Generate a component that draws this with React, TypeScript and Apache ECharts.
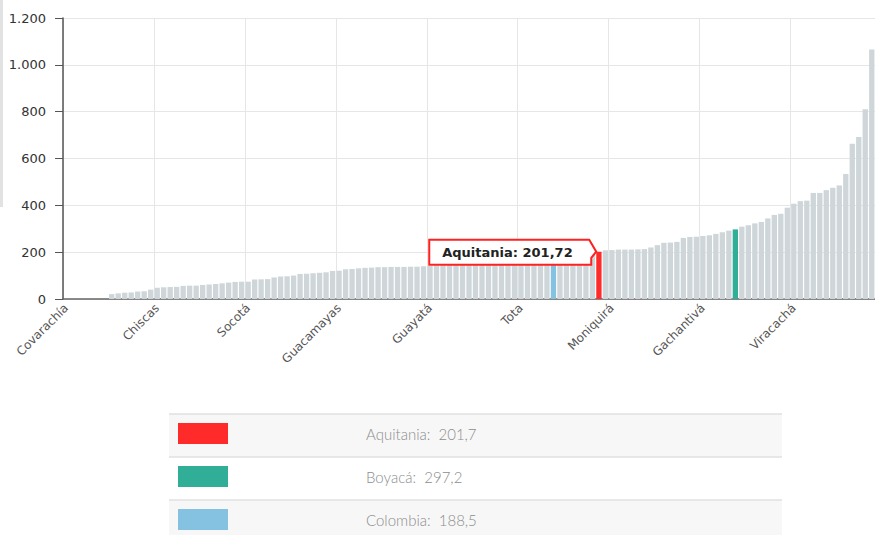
import React, { useEffect, useRef } from 'react';
import * as echarts from 'echarts';

// Tick labels shown on the category axis (every 14th municipality)
const axisLabelNames = ['Covarachía', 'Chiscas', 'Socotá', 'Guacamayas', 'Guayatá', 'Tota', 'Moniquirá', 'Gachantivá', 'Viracachá'];
const labelStep = 14;

// Highlighted entities and their rank in the sorted list
const highlightNames = ['Aquitania', 'Boyacá', 'Colombia'];
const highlightRanks = [82, 103, 75];
const highlightColors = ['#ff2b2b', '#31ae97', '#85c1e1'];

// Sorted values (125 entries)
const values: (number | null)[] = [
  null, null, null, null, null, null, null,
  21, 24, 27, 28, 32, 33, 40, 48, 50, 51,
  52, 56, 57, 57, 60, 62, 64, 67, 70, 73,
  74, 74, 83, 84, 85, 92, 96, 97, 100, 107,
  108, 110, 112, 114, 120, 121, 127, 128, 131, 133,
  134, 136, 136, 137, 137, 137, 138, 138, 140, 141,
  143, 144, 146, 148, 150, 152, 154, 156, 158, 160,
  163, 165, 168, 171, 174, 177, 181, 185, 188.5, 190,
  192, 194, 196, 198, 200, 201.72, 208, 209, 211, 211,
  211, 212, 213, 220, 230, 240, 241, 244, 261, 265,
  266, 269, 272, 278, 285, 292, 297.2, 309, 315, 323,
  329, 344, 359, 364, 390, 407, 418, 420, 453, 453,
  465, 475, 485, 534, 663, 692, 810, 1066,
];

const yMax = 1200;
const yStep = 200;

const thousands = (v: number) => String(v).replace(/\B(?=(\d{3})+(?!\d))/g, '.');
const decimalComma = (v: number, d: number) => v.toFixed(d).replace('.', ',');

export default function App() {
  const ref = useRef<HTMLDivElement>(null);

  useEffect(() => {
    document.body.style.margin = '0';
    if (!ref.current) return;
    const chart = echarts.init(ref.current, undefined, { renderer: 'svg' });

    const categories = values.map((_, i) => {
      const h = highlightRanks.indexOf(i);
      if (h >= 0) return highlightNames[h];
      if (i % labelStep === 0 && axisLabelNames[i / labelStep]) return axisLabelNames[i / labelStep];
      return '';
    });

    const gridLeft = 63;
    const gridTop = 18;
    const gridWidth = 817;
    const gridHeight = 281;
    const gap = 0.18;

    chart.setOption({
      animation: false,
      grid: { left: gridLeft, top: gridTop, width: gridWidth, height: gridHeight },
      xAxis: {
        type: 'category',
        data: categories,
        axisLine: { lineStyle: { color: '#666', width: 1.5 } },
        axisTick: { alignWithLabel: true, interval: labelStep - 1, length: 5, lineStyle: { color: '#bbb' } },
        axisLabel: {
          interval: labelStep - 1,
          rotate: 45,
          fontSize: 12,
          color: '#555',
          margin: 7,
          fontFamily: 'DejaVu Sans',
        },
        splitLine: { show: true, interval: labelStep - 1, lineStyle: { color: '#e6e6e6' } },
      },
      yAxis: {
        type: 'value',
        min: 0,
        max: yMax,
        interval: yStep,
        axisLine: { show: true, lineStyle: { color: '#555', width: 1.5 } },
        axisTick: { show: true, length: 8, lineStyle: { color: '#555' } },
        axisLabel: { formatter: (v: number) => thousands(v), fontSize: 13, color: '#333', margin: 17, fontFamily: 'DejaVu Sans' },
        splitLine: { lineStyle: { color: '#e6e6e6' } },
      },
      series: [
        {
          type: 'bar',
          silent: true,
          barCategoryGap: gap * 100 + '%',
          itemStyle: { color: '#cfd6d9' },
          data: values.map((v, i) => {
            const h = highlightRanks.indexOf(i);
            return h >= 0 ? { value: v, itemStyle: { color: highlightColors[h] } } : v;
          }),
        },
      ],
    });

    // Callout for the first highlighted bar
    const rank = highlightRanks[0];
    const val = values[rank] as number;
    const [cx, cy] = chart.convertToPixel({ gridIndex: 0 } as any, [rank, val]) as number[];
    const slot = gridWidth / values.length;
    const tipX = cx - (slot * (1 - gap)) / 2;
    const tipY = cy;
    const R = tipX - 5;
    const L = R - 162;
    const T = tipY - 12;
    const B = tipY + 13;

    const rowTops = [414, 457, 500];
    const rowH = 43;
    const tableX = 169;
    const tableW = 613;

    const legendEls: any[] = [];
    highlightNames.forEach((name, k) => {
      const top = rowTops[k];
      legendEls.push({
        type: 'rect',
        shape: { x: tableX, y: top, width: tableW, height: rowH },
        style: { fill: k % 2 === 0 ? '#f7f7f7' : '#ffffff' },
        silent: true,
      });
      legendEls.push({
        type: 'line',
        shape: { x1: tableX, y1: top, x2: tableX + tableW, y2: top },
        style: { stroke: '#e0e0e0', lineWidth: 1.5 },
        silent: true,
      });
      legendEls.push({
        type: 'rect',
        shape: { x: 178, y: top + 9, width: 50, height: 21 },
        style: { fill: highlightColors[k] },
        silent: true,
      });
      legendEls.push({
        type: 'text',
        x: 366,
        y: top + 20,
        style: {
          text: name + ':\u00a0\u00a0' + decimalComma(values[highlightRanks[k]] as number, 1),
          fill: '#8d8d8d',
          font: '300 15px Lato',
          verticalAlign: 'middle',
        },
        silent: true,
      });
    });

    chart.setOption({
      graphic: [
        { type: 'rect', shape: { x: 0, y: 0, width: 3, height: 207 }, style: { fill: '#e2e2e2' }, silent: true },
        {
          type: 'polygon',
          shape: { points: [[L, T], [R - 2, T], [tipX, tipY], [R, tipY + 6], [R, B], [L, B]] },
          style: { fill: '#ffffff', stroke: '#ff2020', lineWidth: 2 },
          z: 100,
          silent: true,
        },
        {
          type: 'text',
          x: L + 13,
          y: (T + B) / 2,
          z: 101,
          style: {
            text: highlightNames[0] + ': ' + decimalComma(val, 2),
            fill: '#222',
            font: 'bold 13px "DejaVu Sans"',
            verticalAlign: 'middle',
          },
          silent: true,
        },
        ...legendEls,
      ],
    });

    return () => chart.dispose();
  }, []);

  return <div ref={ref} style={{ width: 875, height: 535 }} />;
}
